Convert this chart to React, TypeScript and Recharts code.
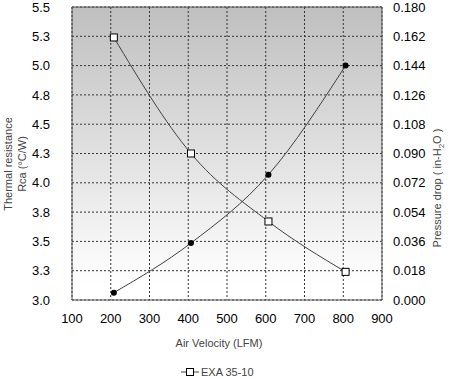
import React from "react";
import {
  ComposedChart,
  Line,
  XAxis,
  YAxis,
  CartesianGrid,
  ReferenceArea,
  Legend,
} from "recharts";

// air velocity of each measured point (LFM)
const velocity = [208, 407, 607, 806];
// thermal resistance Rca (°C/W), open squares, left axis
const resistance = [5.24, 4.25, 3.67, 3.24];
// pressure drop (in-H2O), filled dots, right axis
const pressure = [0.0045, 0.035, 0.077, 0.144];

const xTicks = [100, 200, 300, 400, 500, 600, 700, 800, 900];
const leftTicks = [3, 3.25, 3.5, 3.75, 4, 4.25, 4.5, 4.75, 5, 5.25, 5.5];
const leftTickLabels = ["3.0", "3.3", "3.5", "3.8", "4.0", "4.3", "4.5", "4.8", "5.0", "5.3", "5.5"];
const rightTicks = [0, 0.018, 0.036, 0.054, 0.072, 0.09, 0.108, 0.126, 0.144, 0.162, 0.18];
const rightTickLabels = ["0.000", "0.018", "0.036", "0.054", "0.072", "0.090", "0.108", "0.126", "0.144", "0.162", "0.180"];

const seriesName = "EXA 35-10";

const data = velocity.map((v, i) => ({
  velocity: v,
  resistance: resistance[i],
  pressure: pressure[i],
}));

const FONT = '"Liberation Sans", Arial, sans-serif';

const SquareDot = (props: any) => {
  const { cx, cy } = props;
  if (cx == null || cy == null) return null;
  return <rect x={cx - 3.5} y={cy - 3.5} width={7} height={7} fill="#fff" stroke="#000" strokeWidth={1} />;
};

const FilledDot = (props: any) => {
  const { cx, cy } = props;
  if (cx == null || cy == null) return null;
  return <circle cx={cx} cy={cy} r={3} fill="#000" />;
};

// y-axis tick label, drawn where recharts puts the tick
const YTick = (props: any) => {
  const { x, y, index, labels, anchor } = props;
  return (
    <text x={x} y={y} dy="0.36em" textAnchor={anchor} fontFamily={FONT} fontSize={13} fill="#000">
      {labels[index]}
    </text>
  );
};

const LeftTitle = () => (
  <text fontFamily={FONT} fontSize={11} fill="#444" textAnchor="middle" transform="translate(0,164) rotate(-90)">
    <tspan x={0} y={12}>Thermal resistance</tspan>
    <tspan x={0} y={26}>Rca (°C/W)</tspan>
  </text>
);

const RightTitle = () => (
  <text
    fontFamily={FONT}
    fontSize={11}
    fill="#444"
    textAnchor="middle"
    transform="translate(441,188) rotate(-90)"
  >
    Pressure drop  ( in-H<tspan fontSize={8} dy={3}>2</tspan>
    <tspan dy={-3}>O )</tspan>
  </text>
);

const XTitle = () => (
  <text x={219} y={347} fontFamily={FONT} fontSize={11} fill="#444" textAnchor="middle">
    Air Velocity (LFM)
  </text>
);

const LegendBox = () => (
  <svg width={80} height={14} style={{ display: "block", margin: "0 auto", position: "relative", left: -7 }}>
    <line x1={1} y1={7} x2={19} y2={7} stroke="#404040" strokeWidth={1} />
    <rect x={6.5} y={3.5} width={7} height={7} fill="#fff" stroke="#000" />
    <text x={21} y={11} fontFamily={FONT} fontSize={11} fill="#444">
      {seriesName}
    </text>
  </svg>
);

export default function App() {
  return (
    <div style={{ position: "absolute", left: 0, top: 0, width: 454, height: 379, background: "#fff" }}>
      <ComposedChart width={454} height={379} data={data} margin={{ top: 7, right: 0, bottom: 49, left: 0 }}>
        <defs>
          <linearGradient id="plotBg" x1="0" y1="0" x2="0" y2="1">
            <stop offset="0%" stopColor="#bfbfbf" />
            <stop offset="95%" stopColor="#ffffff" />
            <stop offset="100%" stopColor="#ffffff" />
          </linearGradient>
        </defs>
        <CartesianGrid
          yAxisId="left"
          fill="url(#plotBg)"
          fillOpacity={1}
          stroke="#333"
          strokeDasharray="2 2"
        />
        <XAxis
          dataKey="velocity"
          type="number"
          domain={[100, 900]}
          ticks={xTicks}
          height={30}
          tickLine={false}
          axisLine={false}
          tickSize={6}
          tickMargin={8}
          tick={{ fontFamily: FONT, fontSize: 13, fill: "#000" }}
          label={<XTitle />}
        />
        <YAxis
          yAxisId="left"
          domain={[3, 5.5]}
          ticks={leftTicks}
          width={72}
          tickLine={false}
          axisLine={false}
          tickSize={6}
          tickMargin={16}
          interval={0}
          tick={<YTick labels={leftTickLabels} anchor="end" />}
          label={<LeftTitle />}
        />
        <YAxis
          yAxisId="right"
          orientation="right"
          domain={[0, 0.18]}
          ticks={rightTicks}
          width={72}
          tickLine={false}
          axisLine={false}
          tickSize={6}
          tickMargin={5}
          interval={0}
          tick={<YTick labels={rightTickLabels} anchor="start" />}
          label={<RightTitle />}
        />
        <ReferenceArea
          yAxisId="left"
          x1={100}
          x2={900}
          y1={3}
          y2={5.5}
          fill="none"
          stroke="#555"
          strokeWidth={1}
          ifOverflow="visible"
        />
        <Line
          yAxisId="left"
          type="monotone"
          dataKey="resistance"
          name={seriesName}
          stroke="#404040"
          strokeWidth={1}
          dot={<SquareDot />}
          activeDot={false}
          isAnimationActive={false}
        />
        <Line
          yAxisId="right"
          type="monotone"
          dataKey="pressure"
          legendType="none"
          stroke="#404040"
          strokeWidth={1}
          dot={<FilledDot />}
          activeDot={false}
          isAnimationActive={false}
        />
        <Legend
          layout="horizontal"
          verticalAlign="middle"
          align="center"
          content={() => <LegendBox />}
          wrapperStyle={{ position: "absolute", left: 0, top: 365, width: 454 }}
        />
      </ComposedChart>
    </div>
  );
}
